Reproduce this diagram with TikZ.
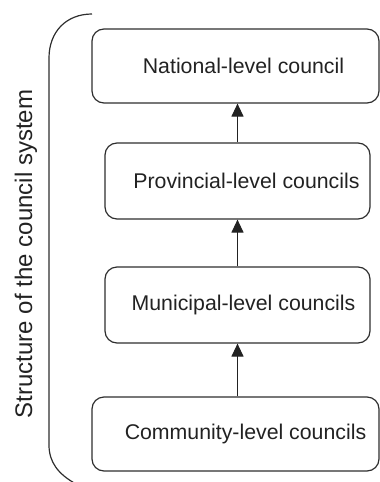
\documentclass[tikz,border=0pt]{standalone}
\usepackage{fontspec}
\setmainfont{Liberation Sans}
\usetikzlibrary{arrows.meta}
\definecolor{edge}{HTML}{2E2E2E}
\definecolor{ink}{HTML}{222222}
\begin{document}
\begin{tikzpicture}[x=1pt,y=-1pt,
  levelbox/.style={draw=edge,line width=1.2pt,rounded corners=12pt,text=ink,
    font=\fontsize{21.3}{25}\selectfont,inner sep=0pt},
  wide/.style={levelbox,minimum width=287pt,minimum height=74pt},
  narrow/.style={levelbox,minimum width=265pt,minimum height=76pt},
  uparrow/.style={draw=ink,line width=1.2pt,-{Triangle[length=13pt,width=12pt]}},
  bracket/.style={draw=edge,line width=1.2pt}]
\useasboundingbox (0,0) rectangle (380,482);
\clip (0,0) rectangle (380,482);
\node[wide]   (b1) at (235.5,66)  {\hspace*{16pt}National-level council};
\node[narrow] (b2) at (237.5,181) {\hspace*{18pt}Provincial-level councils};
\node[narrow] (b3) at (237.5,305) {\hspace*{12pt}Municipal-level councils};
\node[wide]   (b4) at (235.5,434) {\hspace*{20pt}Community-level councils};
\draw[uparrow] (b2.north) -- (b2.north |- b1.south);
\draw[uparrow] (b3.north) -- (b3.north |- b2.south);
\draw[uparrow] (b4.north -| b3.north) -- (b3.south);
\coordinate (top) at (92,14);
\coordinate (bot) at (76,484);
\draw[bracket] (top) .. controls (66,14) and (49,32) .. (49,58) -- (49,445)
  .. controls (49,462) and (58,474) .. (bot);
\node[text=ink,font=\fontsize{24}{28}\selectfont,rotate=90,anchor=base,inner sep=0pt] (lab) at (32,254) {Structure of the council system};
\end{tikzpicture}
\end{document}
